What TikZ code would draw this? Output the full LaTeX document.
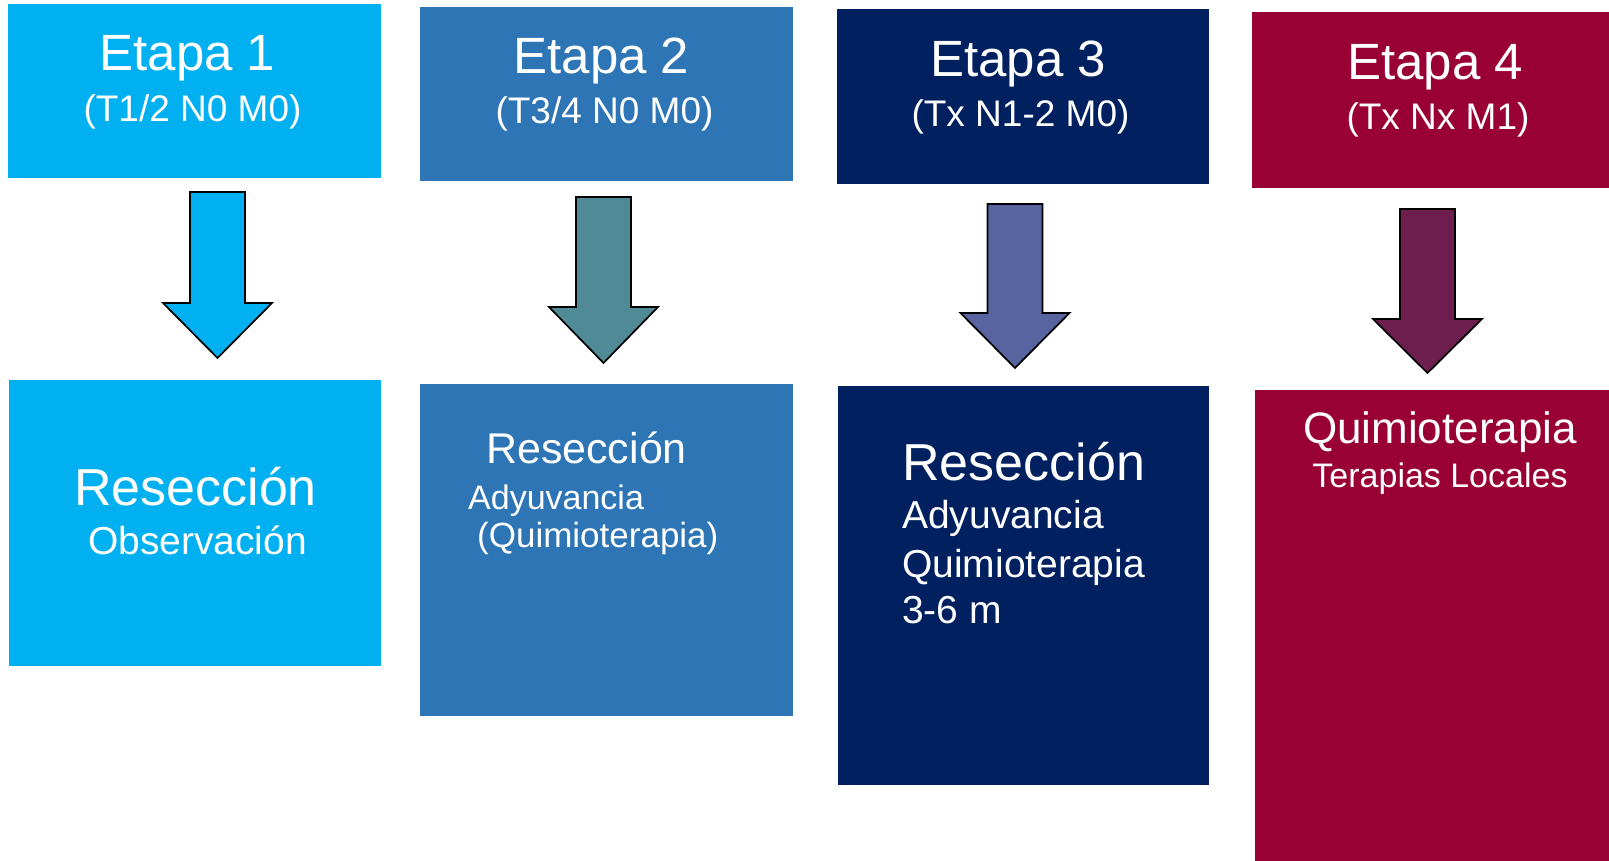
\documentclass[tikz,border=0pt]{standalone}
\usepackage{fontspec}
\setmainfont{Liberation Sans}
\usepackage{tikz}
\usetikzlibrary{calc}

\definecolor{etapaone}{HTML}{00B0F0}
\definecolor{etapatwo}{HTML}{2E75B6}
\definecolor{etapathree}{HTML}{002060}
\definecolor{etapafour}{HTML}{990033}
\definecolor{arrowtwo}{HTML}{4F8A96}
\definecolor{arrowthree}{HTML}{5864A0}
\definecolor{arrowfour}{HTML}{6D1D4E}

\tikzset{
  box/.style={rectangle,inner sep=0pt,anchor=north west},
  lbl/.style={text=white,inner sep=0pt,anchor=base},
  lblw/.style={text=white,inner sep=0pt,anchor=base west},
  blockarrow/.style={draw=black,line width=1.7pt,line join=miter},
}

\begin{document}
\begin{tikzpicture}[x=1pt,y=-1pt]
  \useasboundingbox (0,0) rectangle (1609,861);
  \fill[white] (0,0) rectangle (1609,861);

  % stage boxes
  \node[box,fill=etapaone,minimum width=373pt,minimum height=174pt] (top1) at (8,4) {};
  \node[box,fill=etapatwo,minimum width=373pt,minimum height=174pt] (top2) at (420,7) {};
  \node[box,fill=etapathree,minimum width=372pt,minimum height=175pt] (top3) at (837,9) {};
  \node[box,fill=etapafour,minimum width=357pt,minimum height=176pt] (top4) at (1252,12) {};

  \node[lbl,font={\fontsize{51}{51}\selectfont}] (et1) at (187.5,71) {Etapa 1};
  \node[lbl,font={\fontsize{37}{37}\selectfont}] (tnm1) at (192.5,122) {(T1/2 N0 M0)};
  \node[lbl,font={\fontsize{51}{51}\selectfont}] (et2) at (601.5,74) {Etapa 2};
  \node[lbl,font={\fontsize{37}{37}\selectfont}] (tnm2) at (604.5,124) {(T3/4 N0 M0)};
  \node[lbl,font={\fontsize{51}{51}\selectfont}] (et3) at (1018,77) {Etapa 3};
  \node[lbl,font={\fontsize{37}{37}\selectfont}] (tnm3) at (1020.5,127) {(Tx N1-2 M0)};
  \node[lbl,font={\fontsize{51}{51}\selectfont}] (et4) at (1435,80) {Etapa 4};
  \node[lbl,font={\fontsize{37}{37}\selectfont}] (tnm4) at (1438,130) {(Tx Nx M1)};

  % block arrows
  \coordinate (a1) at (217.5,192);
  \coordinate (a2) at (603.5,197);
  \coordinate (a3) at (1015,204);
  \coordinate (a4) at (1427.5,209);
  \draw[blockarrow,fill=etapaone] (a1) ++(-27.5,0) -- ++(55,0) -- ++(0,111) -- ++(27,0)
    -- ++(-54.5,55) -- ++(-54.5,-55) -- ++(27,0) -- cycle;
  \draw[blockarrow,fill=arrowtwo] (a2) ++(-27.5,0) -- ++(55,0) -- ++(0,110) -- ++(27,0)
    -- ++(-54.5,56) -- ++(-54.5,-56) -- ++(27,0) -- cycle;
  \draw[blockarrow,fill=arrowthree] (a3) ++(-27.5,0) -- ++(55,0) -- ++(0,109) -- ++(27,0)
    -- ++(-54.5,55) -- ++(-54.5,-55) -- ++(27,0) -- cycle;
  \draw[blockarrow,fill=arrowfour] (a4) ++(-27.5,0) -- ++(55,0) -- ++(0,110) -- ++(27,0)
    -- ++(-54.5,54) -- ++(-54.5,-54) -- ++(27,0) -- cycle;

  % treatment boxes
  \node[box,fill=etapaone,minimum width=372pt,minimum height=286pt] (bot1) at (9,380) {};
  \node[box,fill=etapatwo,minimum width=373pt,minimum height=332pt] (bot2) at (420,384) {};
  \node[box,fill=etapathree,minimum width=371pt,minimum height=399pt] (bot3) at (838,386) {};
  \node[box,fill=etapafour,minimum width=354pt,minimum height=471pt] (bot4) at (1255,390) {};

  \node[lbl,font={\fontsize{52}{52}\selectfont}] (res1) at (195.5,505) {Resección};
  \node[lbl,font={\fontsize{39}{39}\selectfont}] (obs1) at (197.5,554) {Observación};

  \node[lbl,font={\fontsize{43}{43}\selectfont}] (res2) at (586.5,463) {Resección};
  \node[lblw,font={\fontsize{34}{34}\selectfont}] (ady2) at (468,509) {Adyuvancia};
  \node[lblw,font={\fontsize{35}{35}\selectfont}] (qt2) at (477,547) {(Quimioterapia)};

  \node[lblw,font={\fontsize{52}{52}\selectfont}] (res3) at (902,480) {Resección};
  \node[lblw,font={\fontsize{39}{39}\selectfont}] (ady3) at (902,528) {Adyuvancia};
  \node[lblw,font={\fontsize{39}{39}\selectfont}] (qt3) at (902,577) {Quimioterapia};
  \node[lblw,font={\fontsize{39}{39}\selectfont}] (mes3) at (902,623) {3-6 m};

  \node[lbl,font={\fontsize{44}{44}\selectfont}] (qt4) at (1440,443) {Quimioterapia};
  \node[lbl,font={\fontsize{34}{34}\selectfont}] (loc4) at (1440,487) {Terapias Locales};
\end{tikzpicture}
\end{document}
